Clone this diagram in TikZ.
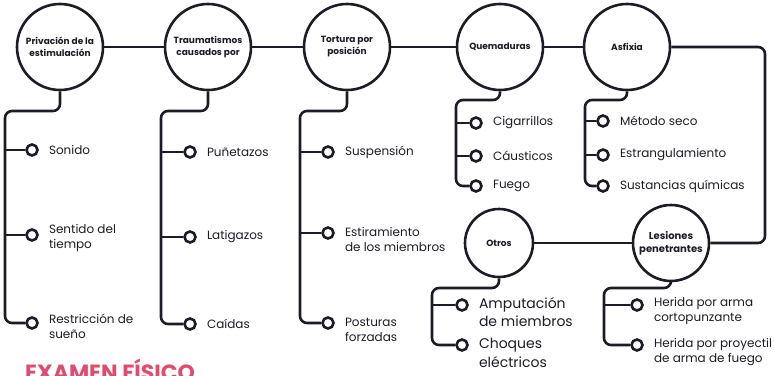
\documentclass[tikz,border=0pt]{standalone}
\usepackage{fontspec}
\setmainfont{Poppins}
\usepackage{tikz}
\usepackage{xcolor}
\definecolor{ink}{HTML}{1C1C26}
\definecolor{rosa}{HTML}{DF4C6F}

\begin{document}
\begin{tikzpicture}[x=1pt,y=-1pt,
	line/.style={draw=ink,line width=2.6pt,rounded corners=7pt},
	topic/.style={circle,draw=ink,line width=2.6pt,minimum size=86pt,inner sep=0pt,align=center,text=ink,font=\bfseries\fontsize{9}{12}\selectfont},
	dot/.style={circle,draw=ink,line width=2.6pt,fill=white,minimum size=11pt,inner sep=0pt},
	item/.style={anchor=west,align=left,inner sep=0pt,xshift=10pt,text=ink,font=\fontsize{12}{15}\selectfont}]
	\useasboundingbox (0,0) rectangle (774,375);

	\node (priv) at (60,47) [topic] {Privación de la\\estimulación};
	\node (trau) at (208,47) [topic] {Traumatismos\\causados por};
	\node (tort) at (347,47) [topic] {Tortura por\\posición};
	\node (quem) at (500,47) [topic] {Quemaduras};
	\node (asfi) at (627,47) [topic] {Asfixia};
	\node (otro) at (499,243) [topic,minimum size=68pt] {Otros};
	\node (lesi) at (671,243) [topic,minimum size=76pt,font=\bfseries\fontsize{10}{13}\selectfont] {Lesiones\\penetrantes};

	\draw[line] (priv) -- (trau);
	\draw[line] (trau) -- (tort);
	\draw[line] (tort) -- (quem);
	\draw[line] (quem) -- (asfi);
	\coordinate (edge) at (765,0);
	\draw[line] (asfi.east) -| (edge |- lesi) -- (lesi.east);
	\draw[line] (otro) -- (lesi);

	\coordinate (t1) at (5,111);
	\node (b11) at (32,150) [dot] {};
	\node (l11) at (b11.east) [item] {Sonido};
	\node (b12) at (32,235) [dot] {};
	\node (l12) at (b12.east) [item,yshift=-3pt] {Sentido del\\tiempo};
	\node (b13) at (32,323) [dot] {};
	\node (l13) at (b13.east) [item,yshift=-3pt] {Restricción de\\sueño};
	\draw[line] (priv.south) |- (t1) |- (b13.west);
	\draw[line] (b11.west -| t1) -- (b11.west);
	\draw[line] (b12.west -| t1) -- (b12.west);

	\coordinate (t2) at (161,111);
	\node (b21) at (190,152) [dot] {};
	\node (l21) at (b21.east) [item] {Puñetazos};
	\node (b22) at (190,237) [dot] {};
	\node (l22) at (b22.east) [item] {Latigazos};
	\node (b23) at (190,324) [dot] {};
	\node (l23) at (b23.east) [item] {Caídas};
	\draw[line] (trau.south) |- (t2) |- (b23.west);
	\draw[line] (b21.west -| t2) -- (b21.west);
	\draw[line] (b22.west -| t2) -- (b22.west);

	\coordinate (t3) at (300,111);
	\node (b31) at (328,152) [dot] {};
	\node (l31) at (b31.east) [item] {Suspensión};
	\node (b32) at (328,233) [dot] {};
	\node (l32) at (b32.east) [item,yshift=-6pt] {Estiramiento\\de los miembros};
	\node (b33) at (328,323) [dot] {};
	\node (l33) at (b33.east) [item,yshift=-7pt] {Posturas\\forzadas};
	\draw[line] (tort.south) |- (t3) |- (b33.west);
	\draw[line] (b31.west -| t3) -- (b31.west);
	\draw[line] (b32.west -| t3) -- (b32.west);

	\coordinate (t4) at (456,100);
	\node (b41) at (476,123) [dot] {};
	\node (l41) at (b41.east) [item] {Cigarrillos};
	\node (b42) at (476,156) [dot] {};
	\node (l42) at (b42.east) [item] {Cáusticos};
	\node (b43) at (476,186) [dot] {};
	\node (l43) at (b43.east) [item] {Fuego};
	\draw[line] (quem.south) |- (t4) |- (b43.west);
	\draw[line] (b41.west -| t4) -- (b41.west);
	\draw[line] (b42.west -| t4) -- (b42.west);

	\coordinate (t5) at (585,100);
	\node (b51) at (603,121) [dot] {};
	\node (l51) at (b51.east) [item] {Método seco};
	\node (b52) at (603,155) [dot] {};
	\node (l52) at (b52.east) [item] {Estrangulamiento};
	\node (b53) at (603,186) [dot] {};
	\node (l53) at (b53.east) [item] {Sustancias químicas};
	\draw[line] (asfi.south) |- (t5) |- (b53.west);
	\draw[line] (b51.west -| t5) -- (b51.west);
	\draw[line] (b52.west -| t5) -- (b52.west);

	\coordinate (t6) at (432,288);
	\node (b61) at (462,305) [dot] {};
	\node (l61) at (b61.east) [item,yshift=-7pt,font=\fontsize{14}{18}\selectfont] {Amputación\\de miembros};
	\node (b62) at (462,345) [dot] {};
	\node (l62) at (b62.east) [item,yshift=-8pt,font=\fontsize{14}{19}\selectfont] {Choques\\eléctricos};
	\draw[line] (otro.south) |- (t6) |- (b62.west);
	\draw[line] (b61.west -| t6) -- (b61.west);

	\coordinate (t7) at (604,288);
	\node (b71) at (637,305) [dot] {};
	\node (l71) at (b71.east) [item,yshift=-6pt,font=\fontsize{12}{15}\selectfont] {Herida por arma\\cortopunzante};
	\node (b72) at (637,345) [dot] {};
	\node (l72) at (b72.east) [item,yshift=-7pt,font=\fontsize{12}{15}\selectfont] {Herida por proyectil\\de arma de fuego};
	\draw[line] (lesi.south) |- (t7) |- (b72.west);
	\draw[line] (b71.west -| t7) -- (b71.west);

	\node (mark) at (-10,390) [circle,draw=ink,line width=2.6pt,minimum size=26pt] {};
	\node (exam) at (25,380) [anchor=base west,inner sep=0pt,text=rosa,font=\bfseries\fontsize{22}{26}\selectfont] {EXAMEN FÍSICO};
\end{tikzpicture}
\end{document}
